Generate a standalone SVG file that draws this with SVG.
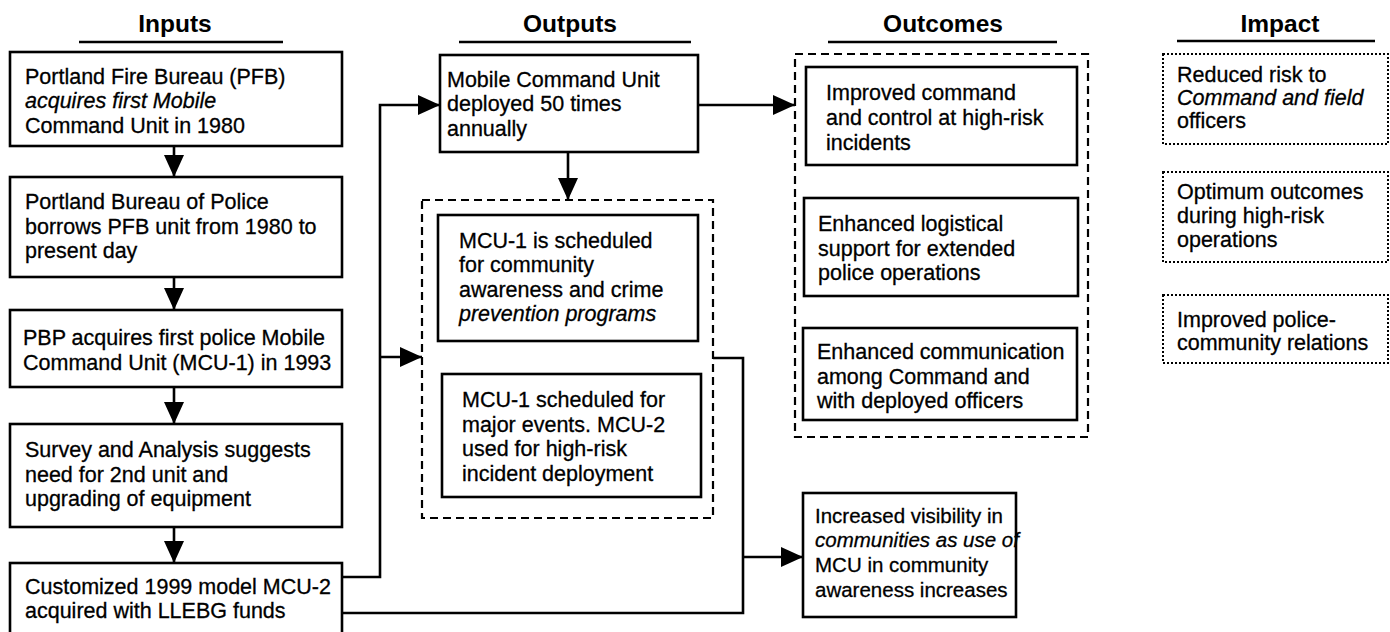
<svg xmlns="http://www.w3.org/2000/svg" width="1390" height="632" viewBox="0 0 1390 632">
<style>
  .bg { fill: #ffffff; }
  .box { fill: #ffffff; stroke: #000; stroke-width: 2.6; }
  .dash { fill: none; stroke: #000; stroke-width: 2.2; stroke-dasharray: 8 5; }
  .dot { fill: #ffffff; stroke: #000; stroke-width: 2; stroke-dasharray: 2 2; }
  .t { font-family: "Liberation Sans", Arial, sans-serif; font-size: 21.5px; fill: #000; stroke: #000; stroke-width: 0.3; }
  .s { font-size: 20.5px; }
  .i { font-style: italic; }
  .h { font-family: "Liberation Sans", Arial, sans-serif; font-size: 24.5px; font-weight: bold; fill: #000; text-anchor: middle; }
  .ul { stroke: #000; stroke-width: 2.6; }
  .c { fill: none; stroke: #000; stroke-width: 2.6; }
</style>
<defs>
  <marker id="ah" viewBox="0 0 22 20" refX="22" refY="10" markerWidth="22" markerHeight="20" orient="auto" markerUnits="userSpaceOnUse">
    <path d="M0,0 L22,10 L0,20 Z" fill="#000"/>
  </marker>
</defs>
<rect class="bg" x="0" y="0" width="1390" height="632"/>

<g id="headers">
  <text class="h" x="175" y="32">Inputs</text>
  <line class="ul" x1="79" y1="42" x2="283" y2="42"/>
  <text class="h" x="570" y="32">Outputs</text>
  <line class="ul" x1="459" y1="42" x2="691" y2="42"/>
  <text class="h" x="943" y="32">Outcomes</text>
  <line class="ul" x1="828" y1="42" x2="1057" y2="42"/>
  <text class="h" x="1280" y="32">Impact</text>
  <line class="ul" x1="1177" y1="41" x2="1375" y2="41"/>
</g>

<g id="connectors">
  <line class="c" x1="174" y1="146" x2="174" y2="177" marker-end="url(#ah)"/>
  <line class="c" x1="174" y1="277" x2="174" y2="310" marker-end="url(#ah)"/>
  <line class="c" x1="174" y1="387" x2="174" y2="424" marker-end="url(#ah)"/>
  <line class="c" x1="174" y1="527" x2="174" y2="563" marker-end="url(#ah)"/>
  <path class="c" d="M342,577 H380 V105 H440" marker-end="url(#ah)"/>
  <path class="c" d="M380,357 H422" marker-end="url(#ah)"/>
  <path class="c" d="M568,152 V200" marker-end="url(#ah)"/>
  <path class="c" d="M698,105 H795" marker-end="url(#ah)"/>
  <path class="c" d="M713,358 H743 V613 H342"/>
  <path class="c" d="M743,557 H803" marker-end="url(#ah)"/>
</g>

<g id="input1">
  <rect class="box" x="10" y="52" width="332" height="94"/>
  <text class="t" x="25" y="84">Portland Fire Bureau (PFB)</text>
  <text class="t i" x="25" y="108">acquires first Mobile</text>
  <text class="t" x="25" y="133">Command Unit in 1980</text>
</g>
<g id="input2">
  <rect class="box" x="10" y="177" width="332" height="100"/>
  <text class="t" x="25" y="209">Portland Bureau of Police</text>
  <text class="t" x="25" y="234">borrows PFB unit from 1980 to</text>
  <text class="t" x="25" y="258">present day</text>
</g>
<g id="input3">
  <rect class="box" x="10" y="310" width="332" height="77"/>
  <text class="t" x="23" y="345">PBP acquires first police Mobile</text>
  <text class="t" x="23" y="370">Command Unit (MCU-1) in 1993</text>
</g>
<g id="input4">
  <rect class="box" x="10" y="424" width="332" height="103"/>
  <text class="t" x="25" y="457">Survey and Analysis suggests</text>
  <text class="t" x="25" y="482">need for 2nd unit and</text>
  <text class="t" x="25" y="506">upgrading of equipment</text>
</g>
<g id="input5">
  <rect class="box" x="10" y="563" width="332" height="72"/>
  <text class="t" x="25" y="594">Customized 1999 model MCU-2</text>
  <text class="t" x="25" y="618">acquired with LLEBG funds</text>
</g>

<g id="output-mcu">
  <rect class="box" x="440" y="55" width="258" height="97"/>
  <text class="t" x="447" y="87">Mobile Command Unit</text>
  <text class="t" x="447" y="111">deployed 50 times</text>
  <text class="t" x="447" y="136">annually</text>
</g>
<g id="output-group">
  <rect class="dash" x="422" y="200" width="291" height="318"/>
</g>
<g id="output-community">
  <rect class="box" x="438" y="215" width="260" height="126"/>
  <text class="t" x="459" y="248">MCU-1 is scheduled</text>
  <text class="t" x="459" y="272">for community</text>
  <text class="t" x="459" y="297">awareness and crime</text>
  <text class="t i" x="459" y="321">prevention programs</text>
</g>
<g id="output-events">
  <rect class="box" x="442" y="374" width="259" height="123"/>
  <text class="t" x="462" y="407">MCU-1 scheduled for</text>
  <text class="t" x="462" y="432">major events. MCU-2</text>
  <text class="t" x="462" y="456">used for high-risk</text>
  <text class="t" x="462" y="481">incident deployment</text>
</g>
<g id="output-visibility">
  <rect class="box" x="803" y="493" width="213" height="124"/>
  <text class="t s" x="815" y="523">Increased visibility in</text>
  <text class="t s i" x="815" y="547">communities as use of</text>
  <text class="t s" x="815" y="572">MCU in community</text>
  <text class="t s" x="815" y="597">awareness increases</text>
</g>

<g id="outcome-group">
  <rect class="dash" x="795" y="54" width="293" height="383"/>
</g>
<g id="outcome1">
  <rect class="box" x="806" y="67" width="271" height="98"/>
  <text class="t" x="826" y="100">Improved command</text>
  <text class="t" x="826" y="125">and control at high-risk</text>
  <text class="t" x="826" y="150">incidents</text>
</g>
<g id="outcome2">
  <rect class="box" x="804" y="198" width="274" height="98"/>
  <text class="t" x="818" y="231">Enhanced logistical</text>
  <text class="t" x="818" y="256">support for extended</text>
  <text class="t" x="818" y="280">police operations</text>
</g>
<g id="outcome3">
  <rect class="box" x="803" y="328" width="274" height="92"/>
  <text class="t" x="817" y="359">Enhanced communication</text>
  <text class="t" x="817" y="384">among Command and</text>
  <text class="t" x="817" y="408">with deployed officers</text>
</g>

<g id="impact1">
  <rect class="dot" x="1163" y="54" width="225" height="90"/>
  <text class="t" x="1177" y="82">Reduced risk to</text>
  <text class="t i" x="1177" y="105">Command and field</text>
  <text class="t" x="1177" y="128">officers</text>
</g>
<g id="impact2">
  <rect class="dot" x="1163" y="172" width="225" height="90"/>
  <text class="t" x="1177" y="199">Optimum outcomes</text>
  <text class="t" x="1177" y="223">during high-risk</text>
  <text class="t" x="1177" y="247">operations</text>
</g>
<g id="impact3">
  <rect class="dot" x="1163" y="295" width="225" height="68"/>
  <text class="t" x="1177" y="327">Improved police-</text>
  <text class="t" x="1177" y="350">community relations</text>
</g>
</svg>
